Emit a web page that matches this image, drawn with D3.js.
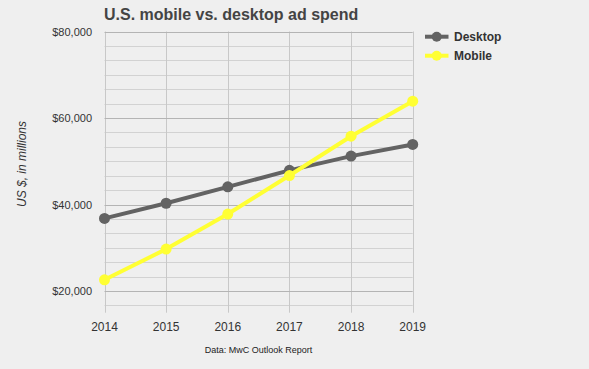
<!DOCTYPE html>
<html>
<head>
<meta charset="utf-8">
<script src="https://cdn.jsdelivr.net/npm/d3@7"></script>
<style>
  body { margin: 0; background: #efefef; }
  svg { display: block; font-family: "Liberation Sans", Arial, sans-serif; }
</style>
</head>
<body>
<svg width="589" height="369"></svg>
<script>
// data
var years = [2014, 2015, 2016, 2017, 2018, 2019];
var desktop = [36800, 40300, 44100, 47900, 51200, 53900];
var mobile = [22600, 29700, 37800, 46700, 55800, 63900];
var yTicks = [20000, 40000, 60000, 80000];
var seriesNames = ["Desktop", "Mobile"];
var seriesColors = ["#636363", "#ffff33"];

var svg = d3.select("svg");

var x = d3.scalePoint().domain(years).range([104.5, 412.7]);
var y = d3.scaleLinear().domain([15000, 80000]).range([312.7, 31.5]);

var minor = d3.range(0, 20).map(function(i) { return 80000 - i * 20000 / 6; })
    .filter(function(v) { return v > 15000 && yTicks.indexOf(Math.round(v)) < 0; });

// minor gridlines
svg.append("g").selectAll("line")
    .data(minor).enter().append("line")
    .attr("x1", x(2014)).attr("x2", x(2019))
    .attr("y1", function(d) { return Math.round(y(d)) + 0.5; })
    .attr("y2", function(d) { return Math.round(y(d)) + 0.5; })
    .attr("stroke", "#d2d2d2").attr("stroke-width", 1);

// vertical lines
svg.append("g").selectAll("line")
    .data(years).enter().append("line")
    .attr("x1", function(d) { return Math.round(x(d)) + 0.5; })
    .attr("x2", function(d) { return Math.round(x(d)) + 0.5; })
    .attr("y1", y(80000)).attr("y2", y(15000))
    .attr("stroke", "#c8c8c8").attr("stroke-width", 1);

// major gridlines
svg.append("g").selectAll("line")
    .data(yTicks).enter().append("line")
    .attr("x1", x(2014)).attr("x2", x(2019))
    .attr("y1", function(d) { return Math.round(y(d)) + 0.5; })
    .attr("y2", function(d) { return Math.round(y(d)) + 0.5; })
    .attr("stroke", "#b4b4b4").attr("stroke-width", 1);

// y tick labels
var fmt = d3.format(",");
svg.append("g").selectAll("text")
    .data(yTicks).enter().append("text")
    .attr("x", 92).attr("y", function(d) { return y(d) + 4; })
    .attr("text-anchor", "end")
    .attr("font-size", 11).attr("fill", "#333")
    .text(function(d) { return "$" + fmt(d); });

// x tick labels
svg.append("g").selectAll("text")
    .data(years).enter().append("text")
    .attr("x", function(d) { return x(d); }).attr("y", 331)
    .attr("text-anchor", "middle")
    .attr("font-size", 12).attr("fill", "#333")
    .text(function(d) { return d; });

// y axis label
svg.append("text")
    .attr("transform", "translate(26,164) rotate(-90)")
    .attr("text-anchor", "middle")
    .attr("font-size", 12).attr("font-style", "italic").attr("fill", "#333")
    .text("US $, in millions");

// title
svg.append("text")
    .attr("x", 104).attr("y", 20)
    .attr("font-size", 16).attr("font-weight", "bold").attr("fill", "#444")
    .text("U.S. mobile vs. desktop ad spend");

// source
svg.append("text")
    .attr("x", 258.5).attr("y", 353)
    .attr("text-anchor", "middle")
    .attr("font-size", 9).attr("fill", "#222")
    .text("Data: MwC Outlook Report");

// series
var series = [desktop, mobile];
var line = d3.line()
    .x(function(d, i) { return x(years[i]); })
    .y(function(d) { return y(d); });

series.forEach(function(vals, s) {
    svg.append("path")
        .datum(vals)
        .attr("d", line)
        .attr("fill", "none")
        .attr("stroke", seriesColors[s])
        .attr("stroke-width", 4)
        .attr("stroke-linejoin", "round");
    svg.append("g").selectAll("circle")
        .data(vals).enter().append("circle")
        .attr("cx", function(d, i) { return x(years[i]); })
        .attr("cy", function(d) { return y(d); })
        .attr("r", 5.5)
        .attr("fill", seriesColors[s]);
});

// legend
var legend = svg.append("g").selectAll("g")
    .data(seriesNames).enter().append("g")
    .attr("transform", function(d, i) { return "translate(425," + (36.7 + i * 19) + ")"; });
legend.append("line")
    .attr("x1", 0).attr("x2", 23.5)
    .attr("stroke", function(d, i) { return seriesColors[i]; })
    .attr("stroke-width", 4);
legend.append("circle")
    .attr("cx", 11.7).attr("r", 5)
    .attr("fill", function(d, i) { return seriesColors[i]; });
legend.append("text")
    .attr("x", 29).attr("y", 4.5)
    .attr("font-size", 12).attr("font-weight", "bold").attr("fill", "#333")
    .text(function(d) { return d; });
</script>
</body>
</html>
